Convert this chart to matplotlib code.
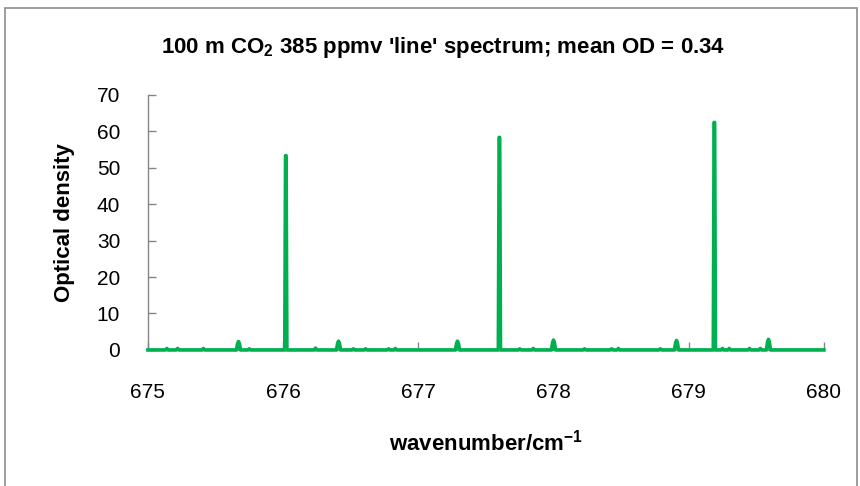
import matplotlib.pyplot as plt
from matplotlib.patches import Rectangle

# spectrum points (wavenumber, optical density)
wavenumber = [675.00,
              675.13, 675.14, 675.15,
              675.21, 675.22, 675.23,
              675.40, 675.41, 675.42,
              675.655, 675.663, 675.670, 675.677, 675.685,
              675.74, 675.75, 675.76,
              676.012, 676.018, 676.022, 676.028,
              676.23, 676.24, 676.25,
              676.395, 676.403, 676.410, 676.417, 676.425,
              676.51, 676.52, 676.53,
              676.60, 676.61, 676.62,
              676.77, 676.78, 676.79,
              676.82, 676.83, 676.84,
              677.275, 677.283, 677.290, 677.297, 677.305,
              677.592, 677.598, 677.602, 677.608,
              677.74, 677.75, 677.76,
              677.84, 677.85, 677.86,
              677.985, 677.993, 678.000, 678.007, 678.015,
              678.22, 678.23, 678.24,
              678.42, 678.43, 678.44,
              678.47, 678.48, 678.49,
              678.78, 678.79, 678.80,
              678.895, 678.903, 678.910, 678.917, 678.925,
              679.182, 679.188, 679.192, 679.198,
              679.24, 679.25, 679.26,
              679.29, 679.30, 679.31,
              679.44, 679.45, 679.46,
              679.52, 679.53, 679.54,
              679.575, 679.583, 679.590, 679.597, 679.605,
              680.00]
optical_density = [0,
                   0, 0.4, 0,
                   0, 0.4, 0,
                   0, 0.4, 0,
                   0, 1.7, 2.3, 1.7, 0,
                   0, 0.3, 0,
                   0, 53.3, 53.3, 0,
                   0, 0.5, 0,
                   0, 1.8, 2.4, 1.8, 0,
                   0, 0.3, 0,
                   0, 0.3, 0,
                   0, 0.3, 0,
                   0, 0.4, 0,
                   0, 1.8, 2.4, 1.8, 0,
                   0, 58.3, 58.3, 0,
                   0, 0.3, 0,
                   0, 0.4, 0,
                   0, 2.0, 2.7, 2.0, 0,
                   0, 0.3, 0,
                   0, 0.3, 0,
                   0, 0.4, 0,
                   0, 0.3, 0,
                   0, 1.9, 2.6, 1.9, 0,
                   0, 62.4, 62.4, 0,
                   0, 0.4, 0,
                   0, 0.4, 0,
                   0, 0.4, 0,
                   0, 0.4, 0,
                   0, 2.1, 2.9, 2.1, 0,
                   0]

x_ticks = [675, 676, 677, 678, 679, 680]
y_ticks = [0, 10, 20, 30, 40, 50, 60, 70]

plt.rcParams['font.family'] = ['Liberation Sans', 'DejaVu Sans']
plt.rcParams['mathtext.default'] = 'regular'

fig = plt.figure(figsize=(8.6, 4.86), dpi=100)
ax = fig.add_axes([0.172, 0.280, 0.786, 0.525])

# outer chart frame
fig.patches.append(Rectangle((0.006, -0.01), 0.99, 0.993, transform=fig.transFigure,
                             fill=False, edgecolor='#8c8c8c', linewidth=1.2))

ax.plot(wavenumber, optical_density, color='#00B050', linewidth=2.6,
        solid_joinstyle='round', zorder=3, clip_on=False)

ax.set_xlim(675, 680)
ax.set_ylim(0, 70)
ax.set_xticks(x_ticks)
ax.set_yticks(y_ticks)
ax.tick_params(axis='both', direction='in', length=6, width=1, color='#868686',
               labelsize=15, labelcolor='black')
ax.tick_params(axis='x', pad=24)
ax.tick_params(axis='y', pad=20)

for side in ['top', 'right']:
    ax.spines[side].set_visible(False)
for side in ['left', 'bottom']:
    ax.spines[side].set_color('#868686')
    ax.spines[side].set_linewidth(1)

fig.text(0.515, 0.902, "100 m CO$_2$ 385 ppmv 'line' spectrum; mean OD = 0.34",
         ha='center', va='center', fontsize=16, fontweight='bold')
ax.set_xlabel('wavenumber/cm$^{-1}$', fontsize=16, fontweight='bold', labelpad=20)
ax.set_ylabel('Optical density', fontsize=16, fontweight='bold', labelpad=16)

fig.savefig('out.png', dpi=100)
